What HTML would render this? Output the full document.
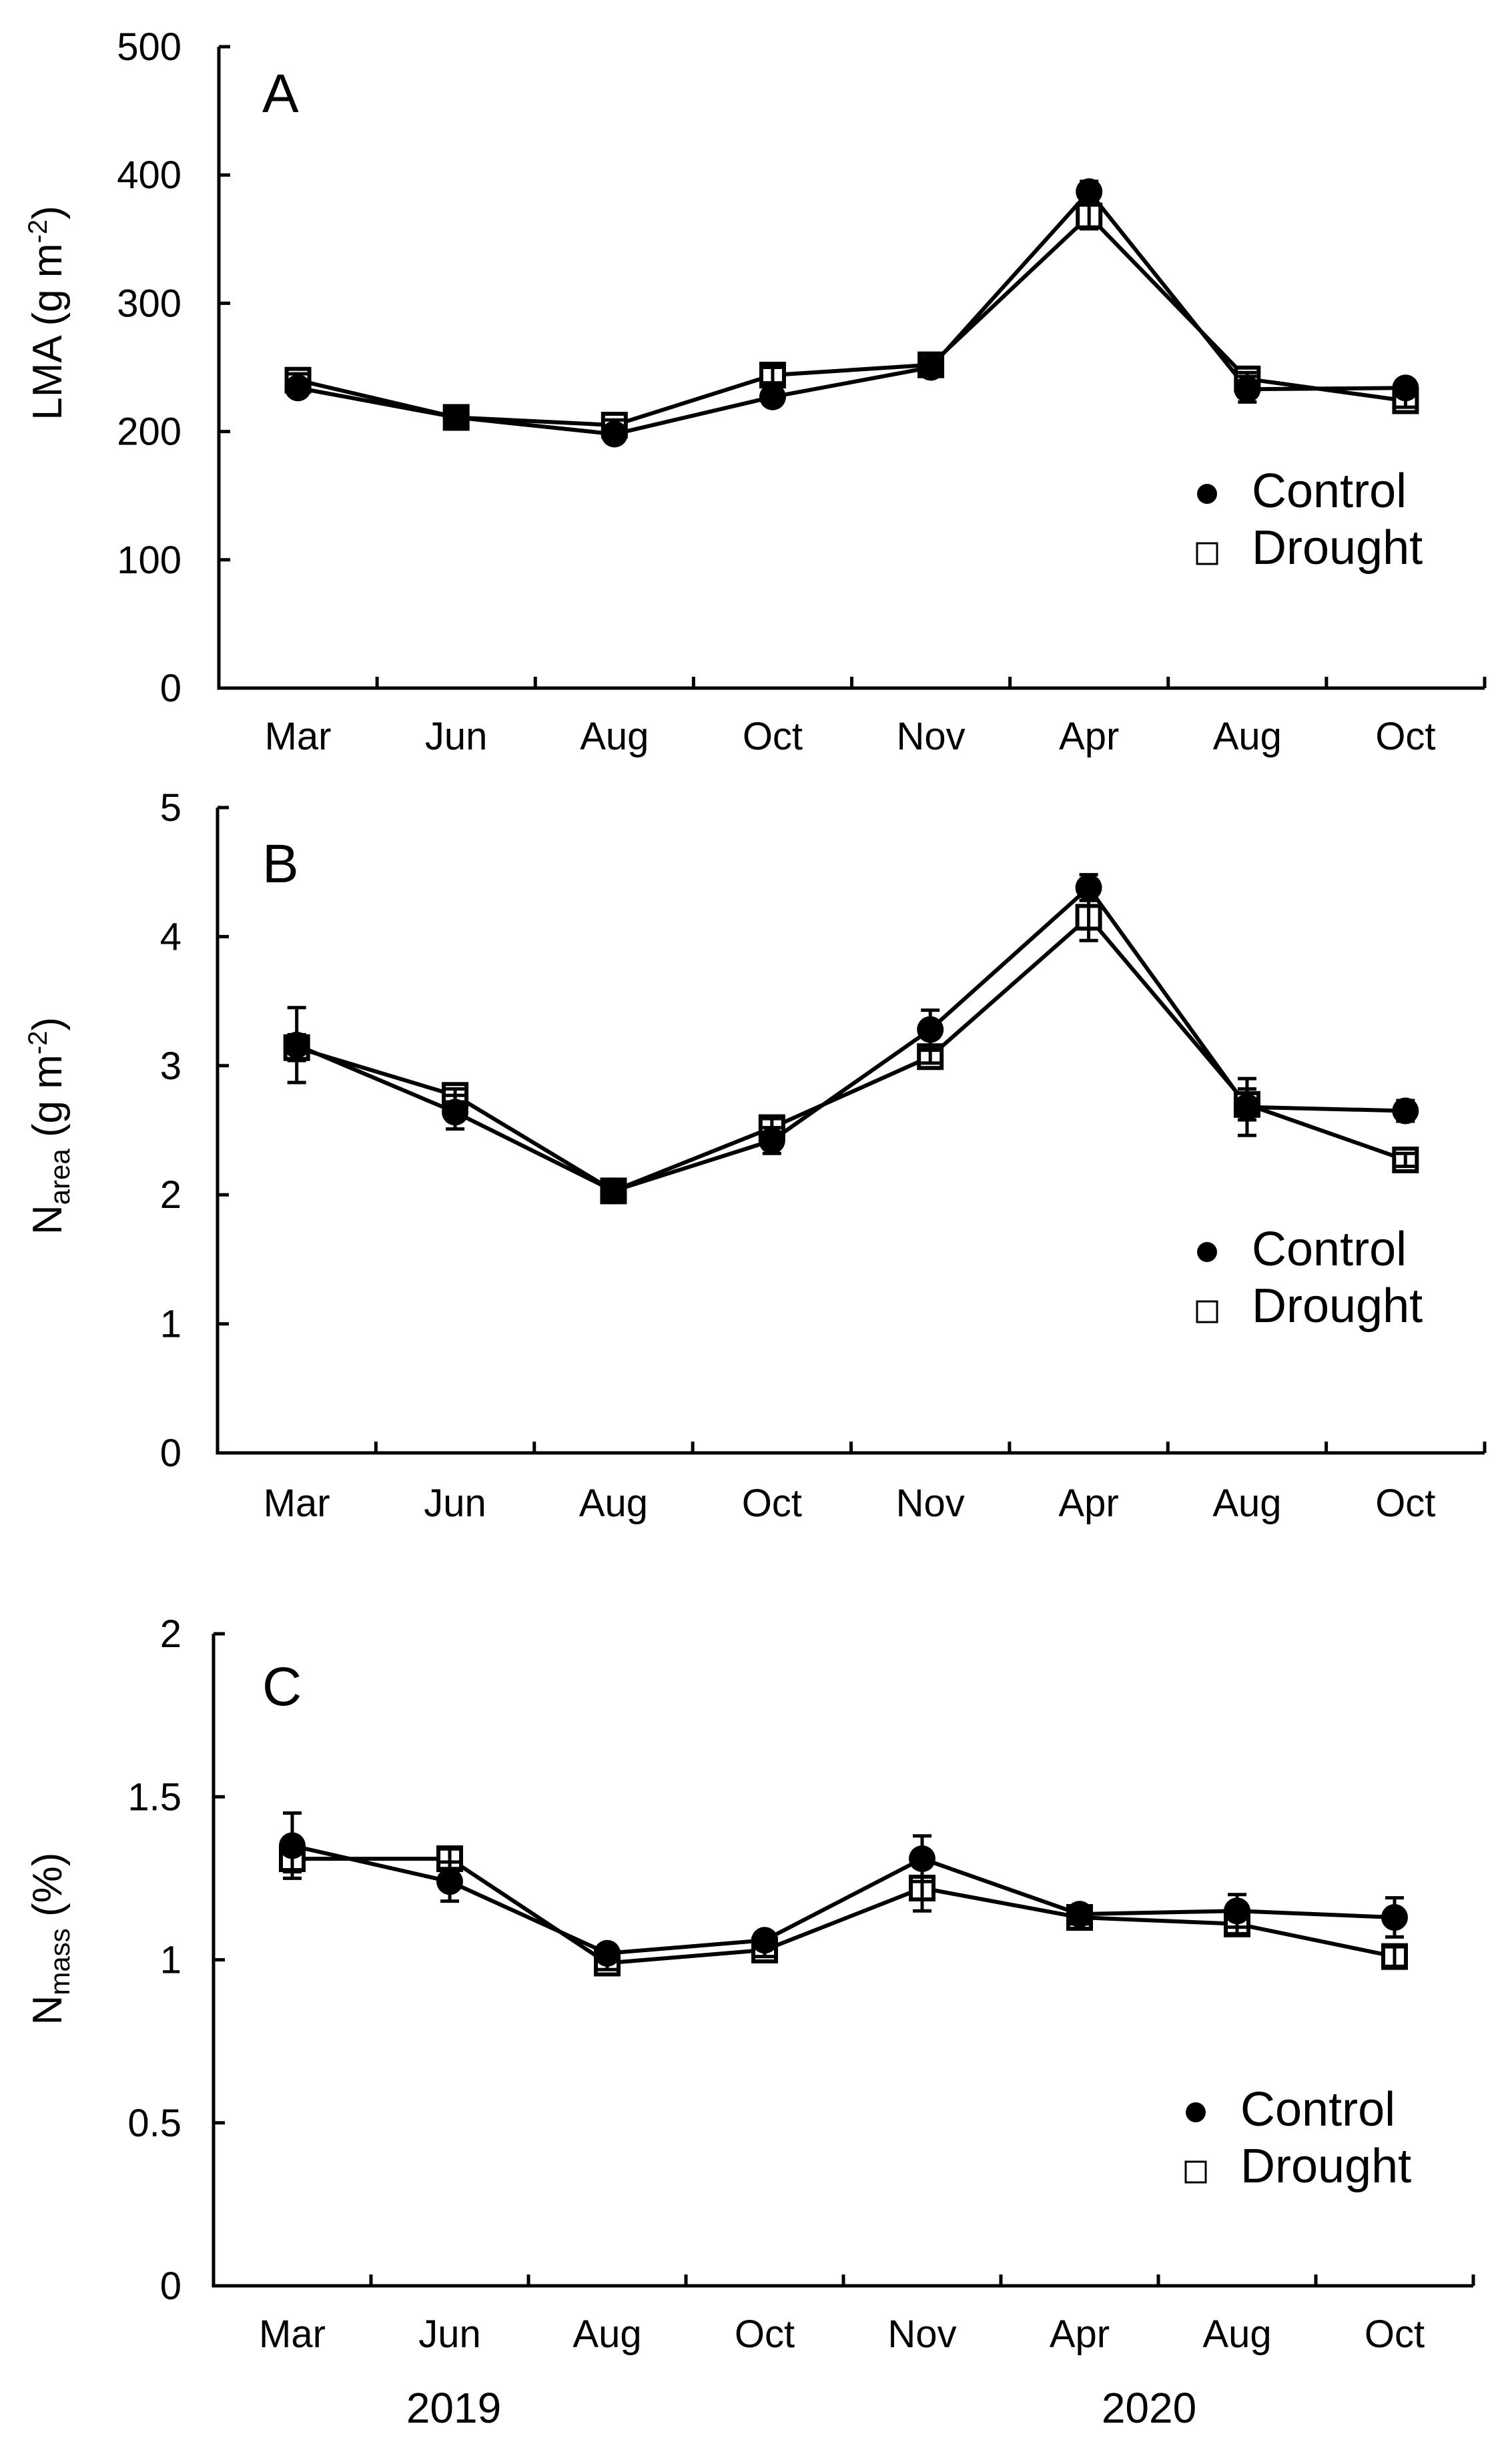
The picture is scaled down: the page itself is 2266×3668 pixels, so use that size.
<!DOCTYPE html>
<html><head><meta charset="utf-8"><style>
html,body{margin:0;padding:0;background:#fff;}
svg{display:block;font-family:"Liberation Sans",Arial,sans-serif;}
</style></head><body>
<svg id="fig" width="2266" height="3668" viewBox="0 0 2266 3668" xmlns="http://www.w3.org/2000/svg"></svg>
<script>
const months = ["Mar","Jun","Aug","Oct","Nov","Apr","Aug","Oct"];
const lmaControl = [234,211,198,227,250,387,233,234];
const lmaControlErr = [5,4,4,5,6,8,10,6];
const lmaDrought = [240,211,205,244,252,368,241,224];
const lmaDroughtErr = [5,4,4,6,6,10,5,5];
const lmaTicks = [0,100,200,300,400,500];
const nareaControl = [3.16,2.64,2.03,2.42,3.28,4.38,2.68,2.65];
const nareaControlErr = [0.29,0.13,0.04,0.1,0.15,0.1,0.22,0.08];
const nareaDrought = [3.14,2.77,2.03,2.52,3.07,4.15,2.7,2.27];
const nareaDroughtErr = [0.1,0.05,0.03,0.07,0.05,0.18,0.12,0.05];
const nareaTicks = [0,1,2,3,4,5];
const nmassControl = [1.35,1.24,1.02,1.06,1.31,1.14,1.15,1.13];
const nmassControlErr = [0.1,0.06,0.02,0.02,0.07,0.02,0.05,0.06];
const nmassDrought = [1.31,1.31,0.99,1.03,1.22,1.13,1.11,1.01];
const nmassDroughtErr = [0.04,0.03,0.02,0.02,0.07,0.02,0.03,0.03];
const nmassTicks = [0,0.5,1,1.5,2];
const years = ["2019","2020"];

const NS="http://www.w3.org/2000/svg";
const svg=document.getElementById('fig');
function mk(tag,attrs,parent,text){const e=document.createElementNS(NS,tag);for(const k in attrs)e.setAttribute(k,attrs[k]);if(text!==undefined)e.textContent=text;(parent||svg).appendChild(e);return e;}

const panels=[
 {id:'a',letter:'A',left:328,right:2225,y0:1031,yTop:70,max:500,ticks:lmaTicks,c:lmaControl,ce:lmaControlErr,d:lmaDrought,de:lmaDroughtErr,xlabY:1123,title:'LMA',titleSub:null,titleRest:' (g m',sup:'-2',titleEnd:')',titleY:469,legX:1809,legY:740,letterY:168},
 {id:'b',letter:'B',left:326,right:2225,y0:2177,yTop:1210,max:5,ticks:nareaTicks,c:nareaControl,ce:nareaControlErr,d:nareaDrought,de:nareaDroughtErr,xlabY:2272,title:'N',titleSub:'area',titleRest:' (g m',sup:'-2',titleEnd:')',titleY:1687,legX:1809,legY:1876,letterY:1322},
 {id:'c',letter:'C',left:320,right:2208,y0:3425,yTop:2448,max:2,ticks:nmassTicks,c:nmassControl,ce:nmassControlErr,d:nmassDrought,de:nmassDroughtErr,xlabY:3517,title:'N',titleSub:'mass',titleRest:' (%)',sup:null,titleEnd:'',titleY:2905,legX:1792,legY:3165,letterY:2555}
];

panels.forEach(p=>{
 const g=mk('g',{});
 
 
 const cw=(p.right-p.left)/months.length;
 const X=i=>p.left+cw*(i+0.5);
 const Y=v=>p.y0-(v/p.max)*(p.y0-p.yTop);
 // axes
 const ax=mk('path',{d:`M${p.left},${p.yTop} V${p.y0} H${p.right}`,fill:'none',stroke:'#000','stroke-width':5},g);
 
 
 p.ticks.forEach(t=>{
  const y=Y(t);
  const tk=mk('line',{x1:p.left,x2:p.left+17,y1:y,y2:y,stroke:'#000','stroke-width':5},g);
  
  
  const tl=mk('text',{x:272,y:y+20,'font-size':58,'text-anchor':'end'},g,String(t));
  
  
 });
 for(let i=1;i<=months.length;i++){
  const x=p.left+cw*i;
  const tk=mk('line',{x1:x,x2:x,y1:p.y0,y2:p.y0-17,stroke:'#000','stroke-width':5},g);
  
  
 }
 months.forEach((m,i)=>{
  const t=mk('text',{x:X(i),y:p.xlabY,'font-size':58,'text-anchor':'middle'},g,m);
  
  
 });
 // title
 const tt=mk('text',{transform:`translate(92,${p.titleY}) rotate(-90)`,'font-size':62,'text-anchor':'middle'},g);
 
 
 mk('tspan',{},tt,p.title);
 if(p.titleSub){mk('tspan',{'font-size':42,dy:12},tt,p.titleSub);mk('tspan',{dy:-12},tt,p.titleRest);} else mk('tspan',{},tt,p.titleRest);
 if(p.sup){mk('tspan',{'font-size':40,dy:-22},tt,p.sup);mk('tspan',{dy:22},tt,p.titleEnd);}
 const lt=mk('text',{x:393,y:p.letterY,'font-size':82},g,p.letter);
 
 
 // lines
 const lineOf=arr=>arr.map((v,i)=>(i?'L':'M')+X(i)+','+Y(v)).join(' ');
 const ld=mk('path',{d:lineOf(p.d),fill:'none',stroke:'#000','stroke-width':6},g);
 
 
 const lc=mk('path',{d:lineOf(p.c),fill:'none',stroke:'#000','stroke-width':6},g);
 
 
 p.d.forEach((v,i)=>{
  const s=mk('rect',{x:X(i)-17,y:Y(v)-17,width:34,height:34,fill:'#fff',stroke:'#000','stroke-width':6},g);
  
  
 });
 p.c.forEach((v,i)=>{
  const c=mk('circle',{cx:X(i),cy:Y(v),r:20,fill:'#000'},g);
  
  
 });
 const err=(vals,errs,name)=>vals.forEach((v,i)=>{
  const x=X(i),y1=Y(v-errs[i]),y2=Y(v+errs[i]);
  const e=mk('path',{d:`M${x},${y1} V${y2} M${x-14},${y1} H${x+14} M${x-14},${y2} H${x+14}`,stroke:'#000','stroke-width':5,fill:'none'},g);
  
  
 });
 err(p.d,p.de,'drought-error-bar');
 err(p.c,p.ce,'control-error-bar');
 // legend
 const lg=mk('g',{},g);
 
 
 mk('circle',{cx:p.legX,cy:p.legY,r:15,fill:'#000'},lg);
 mk('text',{x:p.legX+67,y:p.legY+20,'font-size':72},lg,'Control');
 mk('rect',{x:p.legX-15,y:p.legY+74,width:30,height:31,fill:'#fff',stroke:'#000','stroke-width':3},lg);
 mk('text',{x:p.legX+67,y:p.legY+105,'font-size':72},lg,'Drought');
});
[[680,years[0]],[1722,years[1]]].forEach(([x,t])=>{
 const e=mk('text',{x:x,y:3630,'font-size':64,'text-anchor':'middle'},svg,t);
 
 
});
</script>
</body></html>
